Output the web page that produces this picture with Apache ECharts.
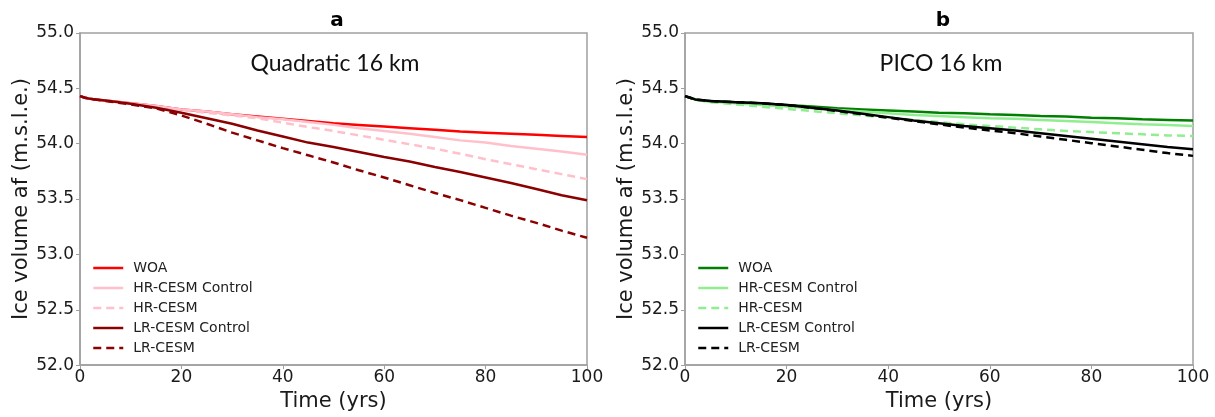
<!DOCTYPE html>
<html>
<head>
<meta charset="utf-8">
<script src="https://cdn.jsdelivr.net/npm/echarts@6/dist/echarts.min.js"></script>
<style>
html,body{margin:0;padding:0;background:#fff;}
#c{width:1215px;height:417px;}
</style>
</head>
<body>
<div id="c"></div>
<script>
// ---- data ----
const times = [0,1,2,3,5,10,15,20,25,30,35,40,45,50,55,60,65,70,75,80,85,90,95,100];
const seriesNames = ['WOA','HR-CESM Control','HR-CESM','LR-CESM Control','LR-CESM'];

// Panel a: Quadratic 16 km
const quadWOA    = [54.43,54.415,54.405,54.40,54.39,54.365,54.34,54.31,54.29,54.265,54.245,54.225,54.205,54.185,54.17,54.155,54.14,54.125,54.11,54.10,54.09,54.08,54.07,54.06];
const quadHRCtrl = [54.43,54.415,54.405,54.40,54.39,54.365,54.34,54.31,54.29,54.265,54.24,54.22,54.195,54.17,54.14,54.115,54.09,54.06,54.03,54.01,53.98,53.955,53.93,53.90];
const quadHR     = [54.43,54.415,54.405,54.40,54.39,54.36,54.335,54.305,54.28,54.255,54.23,54.19,54.15,54.115,54.075,54.035,53.995,53.955,53.91,53.86,53.815,53.77,53.725,53.68];
const quadLRCtrl = [54.43,54.415,54.405,54.40,54.39,54.36,54.325,54.28,54.23,54.18,54.12,54.065,54.01,53.97,53.925,53.88,53.84,53.79,53.745,53.695,53.645,53.59,53.535,53.49];
const quadLR     = [54.43,54.415,54.405,54.40,54.385,54.355,54.32,54.255,54.18,54.10,54.03,53.96,53.895,53.83,53.76,53.695,53.625,53.555,53.49,53.42,53.35,53.285,53.215,53.15];

// Panel b: PICO 16 km
const picoWOA    = [54.43,54.415,54.40,54.39,54.385,54.375,54.365,54.35,54.335,54.32,54.31,54.30,54.29,54.28,54.275,54.265,54.26,54.25,54.245,54.235,54.23,54.22,54.215,54.21];
const picoHRCtrl = [54.43,54.415,54.40,54.39,54.38,54.365,54.35,54.335,54.32,54.305,54.29,54.275,54.26,54.25,54.24,54.23,54.225,54.215,54.205,54.195,54.185,54.175,54.17,54.16];
const picoHR     = [54.43,54.415,54.40,54.39,54.375,54.355,54.335,54.315,54.295,54.275,54.255,54.235,54.215,54.195,54.175,54.16,54.145,54.13,54.115,54.105,54.095,54.085,54.075,54.07];
const picoLRCtrl = [54.43,54.415,54.40,54.395,54.385,54.375,54.365,54.35,54.325,54.30,54.27,54.24,54.21,54.185,54.16,54.14,54.12,54.095,54.07,54.045,54.02,53.995,53.97,53.95];
const picoLR     = [54.43,54.415,54.40,54.395,54.385,54.375,54.365,54.35,54.325,54.295,54.265,54.235,54.205,54.175,54.145,54.12,54.095,54.065,54.035,54.005,53.975,53.945,53.915,53.89];

const xTicks = [0,20,40,60,80,100];
const yTicks = [52.0,52.5,53.0,53.5,54.0,54.5,55.0];

const colorsA = ['#ff0000','#ffc0cb','#ffc0cb','#8b0000','#8b0000'];
const colorsB = ['#008000','#90ee90','#90ee90','#000000','#000000'];
const dashes  = ['solid','solid','dashed','solid','dashed'];

// ---- chart ----
const chart = echarts.init(document.getElementById('c'), null, {renderer:'canvas'});
const tickFont = 'DejaVu Sans';
const grids = [
  {left:80, top:33, width:507, height:337},
  {left:685, top:33, width:508, height:337}
];
function xAxis(i){
  return {
    type:'value', gridIndex:i, min:xTicks[0], max:xTicks[xTicks.length-1], interval:xTicks[1]-xTicks[0],
    name:'Time (yrs)', nameLocation:'middle', nameGap:23,
    nameTextStyle:{fontFamily:tickFont, fontSize:21, color:'#1a1a1a'},
    axisLine:{show:true, lineStyle:{color:'#a0a0a0', width:1.5}},
    axisTick:{show:true, length:4, lineStyle:{color:'#a0a0a0'}},
    axisLabel:{fontFamily:tickFont, fontSize:17, color:'#1a1a1a', margin:4},
    splitLine:{show:false}
  };
}
function yAxis(i){
  return {
    type:'value', gridIndex:i, min:yTicks[0], max:yTicks[yTicks.length-1], interval:0.5,
    name:'Ice volume af (m.s.l.e.)', nameLocation:'middle', nameGap:47,
    nameTextStyle:{fontFamily:tickFont, fontSize:21, color:'#1a1a1a'},
    axisLine:{show:true, lineStyle:{color:'#a0a0a0', width:1.5}},
    axisTick:{show:true, length:4, lineStyle:{color:'#a0a0a0'}},
    axisLabel:{fontFamily:tickFont, fontSize:17, color:'#1a1a1a', margin:6, formatter:v=>v.toFixed(1)},
    splitLine:{show:false}
  };
}
const dataA = [quadWOA, quadHRCtrl, quadHR, quadLRCtrl, quadLR];
const dataB = [picoWOA, picoHRCtrl, picoHR, picoLRCtrl, picoLR];
const series = [];
function addSeries(data, colors, idx, suffix){
  data.forEach((arr,k)=>{
    series.push({
      type:'line', name:seriesNames[k]+suffix, xAxisIndex:idx, yAxisIndex:idx,
      data: times.map((t,j)=>[t, arr[j]]),
      symbol:'none', showSymbol:false, smooth:false,
      lineStyle:{color:colors[k], width:2.5, type: dashes[k]==='dashed' ? [8,5] : 'solid'},
      itemStyle:{color:colors[k]},
      emphasis:{disabled:true}
    });
  });
}
addSeries(dataA, colorsA, 0, '|a');
addSeries(dataB, colorsB, 1, '|b');

function legend(left, suffix){
  return {
    orient:'vertical', left:left, top:261, padding:0, itemWidth:30, itemHeight:14, itemGap:6,
    data: seriesNames.map(n=>n+suffix),
    formatter: n=>n.split('|')[0],
    itemStyle:{opacity:0},
    lineStyle:{width:2.5},
    textStyle:{fontFamily:tickFont, fontSize:14, color:'#222', padding:[0,0,0,5]},
    selectedMode:false
  };
}

chart.setOption({
  animation:false,
  backgroundColor:'#ffffff',
  title:[
    {text:'a', left:332, top:6, textAlign:'center', textStyle:{fontFamily:tickFont, fontWeight:'bold', fontSize:20, color:'#000'}},
    {text:'b', left:938, top:6, textAlign:'center', textStyle:{fontFamily:tickFont, fontWeight:'bold', fontSize:20, color:'#000'}},
    {text:'Quadratic 16 km', left:330, top:47, textAlign:'center', textStyle:{fontFamily:'Lato', fontWeight:'normal', fontSize:23, color:'#111'}},
    {text:'PICO 16 km', left:936, top:47, textAlign:'center', textStyle:{fontFamily:'Lato', fontWeight:'normal', fontSize:23, color:'#111'}}
  ],
  grid: grids.map(g=>Object.assign({show:true, borderColor:'#a0a0a0', borderWidth:1.5, backgroundColor:'transparent'}, g)),
  xAxis:[xAxis(0), xAxis(1)],
  yAxis:[yAxis(0), yAxis(1)],
  legend:[legend(92,'|a'), legend(697,'|b')],
  series: series
});
</script>
</body>
</html>
